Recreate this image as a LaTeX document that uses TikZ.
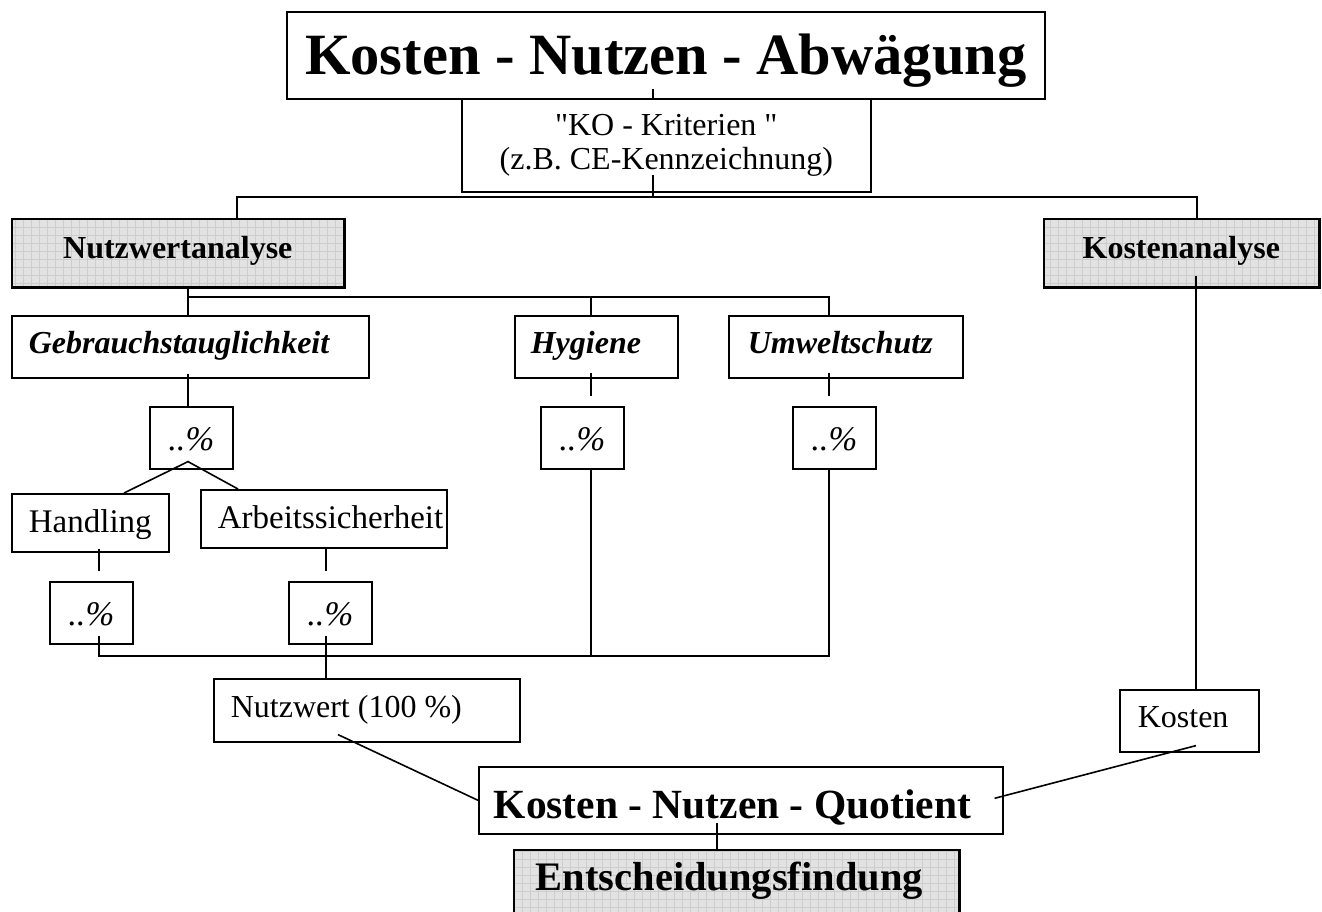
\documentclass[tikz,border=0pt]{standalone}
\usepackage{fontspec}
\setmainfont{Liberation Serif}[Ligatures=TeXOff]
\usetikzlibrary{calc}
\definecolor{ink}     {HTML}{000000}
\definecolor{panel}   {HTML}{E2E2E2}
\definecolor{gridline}{HTML}{CDCDCD}

\begin{document}
\begin{tikzpicture}[x=1pt, y=-1pt,
    box/.style={draw=ink, line width=1.6pt, anchor=north west, inner sep=0pt, align=center},
    greybox/.style={box, fill=panel, path picture={\draw[gridline, line width=0.5pt]
        (path picture bounding box.south west) grid[step=8pt] (path picture bounding box.north east);}},
    lefttext/.style 2 args={text width=#2pt, align=flush left, execute at begin node={\hspace*{#1pt}}},
    link/.style={draw=ink, line width=1.6pt},
    shadowline/.style={draw=ink, line width=2.8pt},
    titletext/.style={font=\fontsize{58.5}{62}\selectfont\bfseries, text height=45pt, text depth=6pt},
    bigtext/.style={font=\fontsize{41.5}{44}\selectfont\bfseries},
    endtext/.style={font=\fontsize{40.5}{44}\selectfont\bfseries},
    headtext/.style={font=\fontsize{32}{35}\selectfont\bfseries, text height=22pt, text depth=10pt},
    crittext/.style={font=\fontsize{32}{35}\selectfont\bfseries\itshape, text height=22pt, text depth=8pt},
    plaintext/.style={font=\fontsize{33}{35}\selectfont, text height=24pt, text depth=4pt},
    notetext/.style={font=\fontsize{32}{35}\selectfont, text height=22pt, text depth=8pt},
    sharebox/.style={box, font=\fontsize{34.5}{36}\selectfont\itshape, text height=26pt, text depth=0pt,
        minimum width=83pt, minimum height=62pt}]
    \useasboundingbox (0,0) rectangle (1322,911);

    % top
    \node[box, titletext, minimum width=758pt, minimum height=87pt] (title) at (286,11) {Kosten - Nutzen - Abwägung};
    \node[box, font=\fontsize{32}{34}\selectfont, minimum width=409pt, minimum height=93pt] (ko) at (461,98)
      {"KO - Kriterien "\\(z.B. CE-Kennzeichnung)};
    \node[greybox, headtext, minimum width=332pt, minimum height=68pt] (nwa) at (11,218) {Nutzwertanalyse};
    \node[greybox, headtext, minimum width=275pt, minimum height=68pt] (ka) at (1043,218) {Kostenanalyse};

    % criteria
    \node[box, crittext, lefttext={17}{357}, minimum height=62pt] (gt) at (11,315) {Gebrauchstauglichkeit};
    \node[box, crittext, lefttext={16}{163}, minimum height=62pt] (hy) at (514,315) {Hygiene};
    \node[box, crittext, lefttext={19}{234}, minimum height=62pt] (uw) at (728,315) {Umweltschutz};
    \node[sharebox] (p1) at (149,406) {..\%};
    \node[sharebox] (p2) at (540,406) {..\%};
    \node[sharebox] (p3) at (792,406) {..\%};
    \node[box, plaintext, minimum width=157pt, minimum height=58pt] (hd) at (11,493) {Handling};
    \node[box, plaintext, lefttext={17}{246}, minimum height=58pt] (as) at (200,489) {Arbeitssicherheit};
    \node[sharebox] (p4) at (49,581) {..\%};
    \node[sharebox] (p5) at (288,581) {..\%};

    % result
    \node[box, notetext, lefttext={17}{306}, minimum height=63pt] (nw) at (213,678) {Nutzwert (100 \%)};
    \node[box, notetext, lefttext={18}{139}, minimum height=62pt] (kost) at (1119,689) {Kosten};
    \node[box, bigtext, lefttext={15}{524}, text height=40pt, text depth=3pt, minimum height=67pt] (q) at (478,766)
      {Kosten - Nutzen - Quotient};
    \node[greybox, endtext, lefttext={22}{445}, text height=30pt, text depth=18pt, minimum height=70pt] (ef) at (513,849)
      {Entscheidungsfindung};
    \foreach \n in {nwa, ka, ef}
      \draw[shadowline] (\n.south west) -- (\n.south east) -- (\n.north east);

    % connectors
    \coordinate (top bus) at (653,197);
    \coordinate (mid bus) at (188,297);
    \coordinate (sum bus) at (829,656);
    \draw[link] (title.south -| top bus) ++(0,-11) -- (ko.north -| top bus);
    \draw[link] (ko.south -| top bus) ++(0,-18) -- (top bus);
    \draw[link] (nwa.north -| 237,0) |- (top bus) -| (ka.north -| 1197,0);
    \draw[link] (nwa.south -| mid bus) ++(0,-2) -- (gt.north -| mid bus);
    \draw[link] (mid bus) -| (uw.north -| sum bus);
    \draw[link] (mid bus -| 591,0) -- (hy.north -| 591,0);
    \draw[link] (gt.south -| mid bus) ++(0,-5) -- (p1.north -| mid bus);
    \draw[link] (hy.south -| 591,0) ++(0,-6) -- ++(0,23);
    \draw[link] (uw.south -| sum bus) ++(0,-6) -- ++(0,23);
    \draw[link] (hd.north -| 124,0) -- ($(p1.south -| mid bus)+(0,-8)$) -- (as.north -| 238,0);
    \draw[link] (hd.south -| 99,0) ++(0,-4) -- ++(0,22);
    \draw[link] (as.south -| 326,0) -- ++(0,22);
    \draw[link] (p4.south -| 99,0) ++(0,-9) |- (sum bus) -- (p3.south -| sum bus);
    \draw[link] (p2.south -| 591,0) -- (sum bus -| 591,0);
    \draw[link] (p5.south -| 326,0) ++(0,-9) -- (nw.north -| 326,0);
    \draw[link] (nw.south -| 338,0) ++(0,-8) -- (q.west);
    \draw[link] (ka.south -| 1196,0) ++(0,-12) -- (kost.north -| 1196,0);
    \draw[link] (kost.south -| 1196,0) ++(0,-7) -- ($(q.east)+(-9,-2)$);
    \draw[link] (q.south -| 717,0) ++(0,-12) -- (ef.north -| 717,0);
  \end{tikzpicture}
\end{document}
